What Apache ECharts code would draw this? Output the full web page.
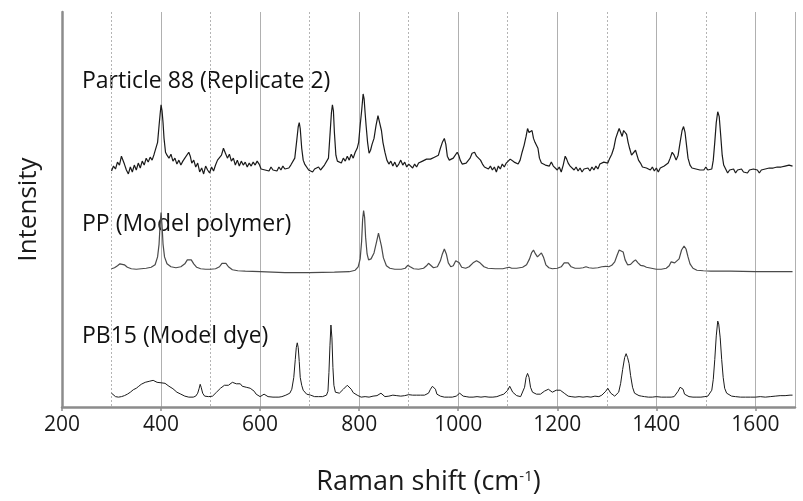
<!DOCTYPE html>
<html>
<head>
<meta charset="utf-8">
<script src="https://cdn.jsdelivr.net/npm/echarts@6/dist/echarts.min.js"></script>
<style>
  html, body { margin: 0; padding: 0; background: #fff; }
  #chart { width: 803px; height: 501px; }
</style>
</head>
<body>
<div id="chart"></div>
<script>
// spectra already stacked: [Raman shift, intensity + vertical offset]
const particle88 = [
  [300,239],[304,244],[308,241],[312,248],[316,245],[320,254],[323,252],[326,246],[330,240],[334,236],[338,243],[342,238],[346,245],[350,240],[354,247],[358,242],[362,249],[366,245],[370,252],[374,248],[378,253],[382,250],[386,256],[390,258],[393,268],[396,285],[398,296],[400,306],[402,300],[404,288],[406,272],[409,258],[412,255],[416,252],[420,256],[424,249],[428,252],[432,246],[436,250],[440,245],[444,249],[448,252],[452,250],[456,258],[459,254],[462,247],[466,250],[470,243],[474,247],[478,238],[482,242],[486,236],[490,244],[494,240],[498,237],[502,243],[506,239],[510,245],[514,250],[518,248],[522,255],[526,262],[530,257],[534,252],[538,256],[542,249],[546,252],[550,245],[554,250],[558,244],[562,249],[566,245],[570,248],[574,243],[578,247],[582,244],[586,248],[590,245],[594,249],[598,246],[602,241],[606,243],[610,240],[614,242],[618,239],[622,243],[626,240],[630,242],[634,239],[638,243],[642,240],[646,244],[650,241],[654,243],[658,242],[662,245],[666,244],[670,252],[674,270],[677,284],[679,288],[681,282],[684,262],[687,250],[690,246],[694,244],[698,240],[702,242],[706,238],[710,241],[714,239],[718,243],[722,240],[726,242],[730,245],[734,243],[738,252],[741,275],[744,298],[746,306],[748,300],[750,278],[753,255],[756,249],[760,250],[764,247],[768,252],[772,249],[776,254],[780,250],[784,256],[788,252],[792,258],[796,262],[799,268],[802,285],[805,300],[808,317],[810,312],[812,298],[814,285],[817,268],[820,257],[823,260],[826,266],[830,272],[834,285],[838,295],[840,297],[842,294],[845,280],[848,268],[852,258],[856,250],[860,246],[864,249],[868,244],[872,248],[876,243],[880,246],[884,250],[888,245],[892,248],[896,243],[900,246],[904,244],[908,242],[912,246],[916,243],[920,247],[924,245],[928,249],[932,248],[936,251],[940,249],[944,251],[948,250],[952,253],[956,252],[960,255],[964,262],[968,268],[972,272],[975,266],[978,254],[982,250],[986,248],[990,252],[994,253],[998,258],[1001,255],[1004,250],[1008,246],[1012,244],[1016,247],[1020,245],[1024,252],[1028,257],[1033,258],[1037,254],[1041,252],[1045,250],[1049,246],[1053,243],[1057,245],[1061,241],[1065,244],[1069,240],[1073,243],[1077,238],[1081,244],[1085,241],[1089,246],[1093,243],[1097,247],[1101,245],[1105,251],[1109,250],[1113,248],[1117,247],[1121,246],[1125,250],[1129,258],[1133,265],[1137,274],[1140,282],[1143,278],[1146,276],[1149,280],[1152,272],[1155,268],[1158,270],[1161,262],[1164,252],[1168,247],[1172,248],[1176,245],[1180,247],[1184,244],[1188,248],[1192,244],[1196,243],[1200,240],[1204,243],[1208,238],[1212,245],[1216,254],[1219,251],[1222,247],[1226,244],[1230,246],[1234,240],[1238,243],[1242,239],[1246,242],[1250,238],[1254,241],[1258,239],[1262,242],[1266,239],[1270,243],[1274,240],[1278,244],[1282,241],[1286,246],[1290,244],[1294,248],[1298,249],[1302,247],[1306,252],[1310,256],[1314,262],[1318,272],[1322,278],[1325,282],[1328,278],[1331,274],[1334,280],[1337,281],[1340,276],[1343,268],[1346,262],[1350,255],[1354,256],[1358,260],[1361,258],[1364,250],[1368,247],[1372,243],[1376,245],[1380,242],[1384,244],[1388,240],[1392,243],[1396,239],[1400,242],[1404,238],[1408,242],[1412,240],[1416,244],[1420,243],[1424,247],[1428,252],[1432,258],[1436,255],[1440,250],[1444,255],[1448,268],[1452,280],[1455,284],[1458,278],[1461,265],[1464,252],[1468,245],[1472,242],[1476,244],[1480,241],[1484,243],[1488,240],[1492,242],[1496,240],[1500,243],[1504,240],[1508,242],[1512,241],[1515,250],[1518,268],[1521,288],[1524,299],[1527,294],[1530,275],[1533,255],[1536,245],[1540,241],[1544,237],[1548,240],[1552,238],[1556,241],[1560,237],[1564,240],[1568,238],[1572,241],[1576,238],[1580,240],[1584,237],[1588,240],[1592,238],[1596,241],[1600,239],[1604,240],[1608,237],[1612,240],[1616,238],[1620,241],[1624,239],[1628,242],[1632,240],[1636,242],[1640,240],[1644,243],[1648,241],[1652,243],[1656,241],[1660,244],[1664,242],[1668,245],[1672,243],[1675,244]
];

const ppPolymer = [
  [300,140],[306,141],[312,143],[317,145],[321,145.5],[326,144],[332,141.5],[340,140],[350,139.5],[360,140],[370,140.5],[380,141.5],[388,144],[393,152],[396,165],[398,184],[400,197],[402,184],[404,165],[407,152],[412,145],[420,142],[430,141],[440,142],[448,145],[453,149],[457,150.5],[461,149],[466,145],[472,141.5],[480,140],[490,139.5],[500,139.5],[510,140],[518,142],[523,145.5],[527,147],[531,145.5],[536,142],[544,139],[555,138],[570,137.5],[600,137],[650,136],[700,136],[750,136.5],[780,137],[792,138.5],[798,142],[802,150],[805,168],[807,190],[809,199],[811,192],[813,172],[816,155],[819,149],[824,150],[830,156],[835,167],[839,176],[842,174],[845,163],[849,151],[855,143],[862,140.5],[872,139.5],[885,139.5],[893,140.5],[898,143.5],[900,144],[903,142],[910,140],[920,139.5],[930,140.5],[936,143],[940,145.5],[944,143.5],[950,141],[958,142],[964,148],[968,155],[972,160],[976,155],[980,146],[985,142],[990,143],[995,148],[998,150],[1002,146],[1007,141.5],[1015,140.5],[1022,142],[1030,146],[1037,148],[1044,146],[1052,142],[1060,140.5],[1075,140],[1090,140],[1098,141],[1103,141.5],[1108,140.5],[1118,140.5],[1130,141.5],[1138,144],[1144,150],[1148,156],[1152,159],[1156,155],[1160,152],[1164,154],[1168,156],[1172,152],[1177,144],[1183,141],[1190,140],[1200,140.5],[1208,142],[1214,146],[1218,148],[1222,146],[1228,142],[1236,140.5],[1245,140.5],[1252,141],[1258,142],[1264,141],[1272,140.5],[1282,141],[1290,142],[1298,142.5],[1304,142],[1310,143.5],[1316,147],[1321,154],[1325,159],[1329,161],[1333,157],[1337,149],[1342,144],[1348,144.5],[1353,147],[1358,149],[1363,146],[1368,143.5],[1374,143],[1380,141.5],[1390,140.5],[1400,139.5],[1410,139.5],[1420,140.5],[1426,143],[1430,147],[1433,149],[1437,146],[1441,145.5],[1446,150],[1451,159],[1456,163],[1460,160],[1464,152],[1468,145],[1474,140.5],[1482,138.5],[1495,138],[1510,137.5],[1550,137.5],[1600,137],[1650,137],[1675,137]
];

const pb15Dye = [
  [300,14],[304,12],[308,10.5],[314,10],[320,10.5],[326,11.5],[332,13],[338,15],[344,17.5],[350,19],[355,21],[360,23],[364,24.5],[368,25],[372,27],[376,26],[380,28],[384,27],[388,26.5],[392,25],[396,23.5],[400,24.5],[404,23],[408,24],[412,22.5],[416,21],[420,20],[424,18.5],[428,17],[432,15],[436,14],[440,13],[444,12.5],[448,11],[452,10.5],[456,10],[460,10.5],[465,10],[470,11],[474,14],[477,19],[479,23],[481,20],[484,14],[488,11],[492,10],[496,10.5],[500,10],[504,11],[508,12.5],[512,15],[516,17],[520,19],[524,21],[528,22],[532,23.5],[536,22],[540,24],[544,25],[548,23],[552,23.5],[556,22],[560,23.5],[564,21],[568,23],[572,20],[576,21.5],[580,19],[584,20.5],[588,16],[592,13],[596,11],[600,10.5],[604,11],[608,13],[612,12],[616,10.5],[620,10],[626,10],[632,10],[638,10],[644,10.5],[648,11],[652,12],[656,11.5],[660,14],[664,18],[668,30],[671,48],[673,60],[675,65],[677,60],[679,46],[681,30],[684,22],[687,17],[690,15],[694,13],[698,12.5],[702,12],[706,11],[710,10.5],[714,11],[718,10.5],[722,10],[726,10.5],[730,11],[734,12],[737,16],[739,35],[741,62],[743,83],[745,70],[747,40],[749,22],[752,15],[756,13],[760,14],[764,16],[768,18],[772,20],[776,22],[780,20],[784,18],[788,14.5],[792,13],[796,12],[800,11],[804,10],[808,12],[812,10.5],[816,11],[820,10],[824,12],[828,11],[832,10],[836,11.5],[840,13],[844,14],[848,12],[852,10.5],[856,10],[860,11],[864,10.5],[868,12],[872,11],[876,11.5],[880,12],[884,11],[888,12],[892,11.5],[896,12],[900,12.5],[904,11.5],[908,12],[912,12.5],[916,12],[920,12.5],[924,12],[928,11.5],[932,12],[936,12.5],[940,14],[944,18],[948,21],[951,22],[954,18],[957,13],[960,11],[964,11],[968,10.5],[972,10],[976,10.5],[980,10],[984,10.5],[988,10],[992,10],[996,11],[1000,13],[1003,14],[1006,13],[1010,11],[1016,10.5],[1022,10],[1030,10],[1038,10.5],[1046,10],[1054,10.5],[1062,10],[1070,10],[1078,10.5],[1086,12],[1092,13],[1096,14],[1100,17],[1104,21],[1107,20],[1110,15],[1114,13],[1118,11.5],[1122,10.5],[1126,10.5],[1130,12],[1134,20],[1137,30],[1140,34],[1143,30],[1146,20],[1150,15],[1154,14],[1158,13],[1162,12],[1166,13],[1170,14],[1174,16],[1178,17],[1182,18],[1186,16],[1190,15],[1194,16],[1198,17],[1202,18.5],[1206,17],[1210,16],[1214,14],[1218,12],[1222,11],[1228,10.5],[1236,10],[1244,10.5],[1252,10],[1260,10.5],[1268,10],[1276,11],[1284,10.5],[1290,12],[1294,13],[1298,16],[1302,19],[1305,18],[1308,14],[1312,12],[1316,11],[1320,12],[1324,15],[1328,24],[1332,38],[1336,50],[1339,54],[1342,50],[1345,44],[1348,32],[1352,20],[1356,14],[1360,12],[1365,11.5],[1370,11],[1376,10.5],[1384,10],[1392,10],[1400,10.5],[1410,10],[1420,10],[1430,10],[1436,10.5],[1440,12],[1444,16],[1448,20],[1451,21],[1454,18],[1457,13],[1460,11],[1466,10.5],[1474,10],[1482,10],[1490,10],[1498,10.5],[1504,11],[1508,13],[1512,17],[1515,28],[1518,48],[1521,72],[1524,87],[1526,84],[1529,70],[1532,48],[1535,30],[1538,19],[1542,14],[1546,12],[1552,11],[1560,10.5],[1570,10],[1580,10],[1590,10],[1600,10],[1610,10.5],[1620,10],[1630,10.5],[1640,11],[1650,11.5],[1660,11.5],[1670,12],[1675,12]
];

const traceNames = ['Particle 88 (Replicate 2)', 'PP (Model polymer)', 'PB15 (Model dye)'];
const xRange = [200, 1680];

const chart = echarts.init(document.getElementById('chart'));
const font = '"Open Sans", Lato, sans-serif';

function lineSeries(name, data, color, width) {
  return {
    name: name,
    type: 'line',
    data: data,
    showSymbol: false,
    symbol: 'none',
    silent: true,
    lineStyle: { color: color, width: width },
    animation: false
  };
}

chart.setOption({
  animation: false,
  grid: { left: 62, right: 8, top: 12, bottom: 89 },
  xAxis: {
    type: 'value',
    min: xRange[0],
    max: xRange[1],
    interval: 200,
    name: 'Raman shift (cm{sup|-1})',
    nameLocation: 'middle',
    nameGap: 62,
    nameTextStyle: {
      fontFamily: font, fontSize: 27, color: '#1a1a1a',
      rich: { sup: { fontFamily: font, fontSize: 15, color: '#1a1a1a', verticalAlign: 'top', padding: [0, 0, 12, 0] } }
    },
    axisLine: { show: true, lineStyle: { color: '#8c8c8c', width: 2.5 } },
    axisTick: { show: true, length: 4, lineStyle: { color: '#8c8c8c', width: 1.5 } },
    axisLabel: {
      fontFamily: font, fontSize: 21, color: '#1a1a1a', margin: 8, showMaxLabel: false,
      formatter: function (v) { return String(v); }
    },
    splitLine: { show: true, lineStyle: { color: '#b0b0b0', width: 1 } },
    minorTick: { show: false, splitNumber: 2 },
    minorSplitLine: { show: true, lineStyle: { color: '#b4b4b4', width: 1, type: [2, 2] } }
  },
  yAxis: {
    type: 'value',
    min: 0,
    max: 400,
    name: 'Intensity',
    nameLocation: 'middle',
    nameGap: 20,
    nameTextStyle: { fontFamily: font, fontSize: 26, color: '#1a1a1a' },
    axisLine: { show: true, lineStyle: { color: '#8c8c8c', width: 2.5 } },
    axisTick: { show: false },
    axisLabel: { show: false },
    splitLine: { show: false }
  },
  graphic: [
    { type: 'text', left: 82, top: 70, style: { text: traceNames[0], font: '23px ' + font, fill: '#111' } },
    { type: 'text', left: 82, top: 213, style: { text: traceNames[1], font: '23px ' + font, fill: '#111' } },
    { type: 'text', left: 82, top: 325, style: { text: traceNames[2], font: '23px ' + font, fill: '#111' } }
  ],
  series: [
    lineSeries(traceNames[0], particle88, '#1a1a1a', 1.2),
    lineSeries(traceNames[1], ppPolymer, '#4a4a4a', 1.2),
    lineSeries(traceNames[2], pb15Dye, '#1a1a1a', 1)
  ]
});
</script>
</body>
</html>
